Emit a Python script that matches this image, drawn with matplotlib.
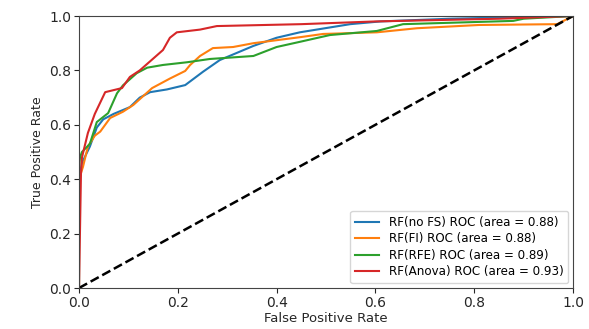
import matplotlib
matplotlib.use("Agg")
import matplotlib.pyplot as plt

labels = ["RF(no FS) ROC (area = 0.88)", "RF(FI) ROC (area = 0.88)",
          "RF(RFE) ROC (area = 0.89)", "RF(Anova) ROC (area = 0.93)"]
colors = ["#1f77b4", "#ff7f0e", "#2ca02c", "#d62728"]

fpr_nofs = [0.0, 0.0, 0.006, 0.022, 0.036, 0.049, 0.07, 0.103, 0.123, 0.144, 0.178, 0.215,
            0.251, 0.285, 0.353, 0.40, 0.447, 0.549, 0.61, 0.75, 1.0]
tpr_nofs = [0.0, 0.40, 0.46, 0.52, 0.59, 0.62, 0.64, 0.665, 0.70, 0.72, 0.73, 0.746,
            0.795, 0.838, 0.89, 0.92, 0.94, 0.97, 0.98, 0.99, 1.0]

fpr_fi = [0.0, 0.0, 0.008, 0.018, 0.032, 0.043, 0.063, 0.089, 0.11, 0.148, 0.184, 0.215,
          0.225, 0.245, 0.271, 0.312, 0.353, 0.447, 0.494, 0.603, 0.684, 0.81, 0.968, 1.0]
tpr_fi = [0.0, 0.40, 0.445, 0.52, 0.56, 0.575, 0.625, 0.648, 0.673, 0.735, 0.77, 0.798,
          0.82, 0.853, 0.882, 0.886, 0.90, 0.922, 0.934, 0.94, 0.955, 0.967, 0.97, 1.0]

fpr_rfe = [0.0, 0.0, 0.002, 0.006, 0.022, 0.036, 0.059, 0.077, 0.089, 0.117, 0.138, 0.17,
           0.219, 0.265, 0.353, 0.40, 0.447, 0.508, 0.603, 0.656, 0.879, 0.90, 1.0]
tpr_rfe = [0.0, 0.44, 0.48, 0.50, 0.53, 0.61, 0.643, 0.716, 0.745, 0.79, 0.81, 0.82,
           0.83, 0.842, 0.853, 0.886, 0.905, 0.93, 0.945, 0.97, 0.982, 0.99, 1.0]

fpr_anova = [0.0, 0.004, 0.006, 0.018, 0.032, 0.053, 0.087, 0.103, 0.123, 0.17, 0.184,
             0.198, 0.245, 0.279, 0.45, 0.6, 0.85, 1.0]
tpr_anova = [0.0, 0.42, 0.48, 0.57, 0.64, 0.72, 0.735, 0.776, 0.80, 0.875, 0.92,
             0.94, 0.95, 0.963, 0.97, 0.98, 0.99, 1.0]

series = [(fpr_nofs, tpr_nofs), (fpr_fi, tpr_fi), (fpr_rfe, tpr_rfe), (fpr_anova, tpr_anova)]

fig = plt.figure(figsize=(5.89, 3.29), dpi=100)
ax = fig.add_axes([79/589, 41/329, 494/589, 272/329])
for (f, t), lab, c in zip(series, labels, colors):
    ax.plot(f, t, color=c, lw=1.5, label=lab)
ax.plot([0, 1], [0, 1], "k--", lw=1.8)
ax.set_xlim(0, 1)
ax.set_ylim(0, 1)
ax.set_xlabel("False Positive Rate", fontsize=9.5, color="#262626", labelpad=2)
ax.set_ylabel("True Positive Rate", fontsize=9, color="#262626")
ax.tick_params(labelsize=10, colors="#262626", pad=2)
for s in ax.spines.values():
    s.set_color("#444444")
ax.legend(loc="lower right", fontsize=8.6, borderaxespad=0.4, labelspacing=0.3)
fig.savefig("out.png", dpi=100)
